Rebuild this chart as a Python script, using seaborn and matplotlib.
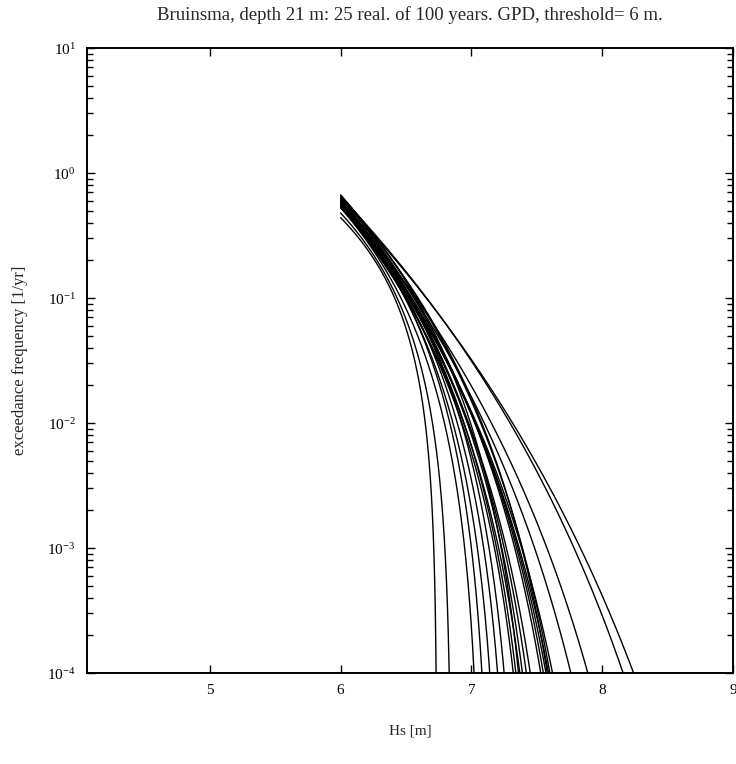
import numpy as np
import pandas as pd
import matplotlib
matplotlib.use("Agg")
import matplotlib.pyplot as plt
import seaborn as sns
from matplotlib.ticker import LogLocator, FixedLocator, NullFormatter

# --- data: 25 GPD fits (threshold 6 m) to 100-year realisations ---------
threshold = 6.0
# exceedance rate at the threshold [1/yr]
rate = [0.44, 0.48, 0.53, 0.60, 0.56, 0.58, 0.64, 0.53, 0.61, 0.66,
        0.55, 0.59, 0.62, 0.57, 0.66, 0.54, 0.60, 0.64, 0.58, 0.67,
        0.56, 0.61, 0.58, 0.65, 0.63]
# GPD shape parameter (negative: bounded upper tail)
shape = [-0.556, -0.455, -0.333, -0.313, -0.294, -0.278, -0.263, -0.238,
         -0.227, -0.250, -0.217, -0.222, -0.208, -0.200, -0.185, -0.192,
         -0.179, -0.200, -0.172, -0.182, -0.167, -0.143, -0.133, -0.115,
         -0.105]
# Hs at which each fitted curve reaches 1e-4 per year
hs_floor = [6.73, 6.83, 7.02, 7.08, 7.14, 7.20, 7.25, 7.32, 7.34, 7.36,
            7.37, 7.39, 7.42, 7.45, 7.53, 7.55, 7.57, 7.58, 7.59, 7.60,
            7.62, 7.76, 7.89, 8.16, 8.24]

x_ticks = [5, 6, 7, 8, 9]
y_floor, y_top = 1e-4, 1e1

# --- evaluate each fitted exceedance curve --------------------------------
frames = []
u = np.unique(np.concatenate([np.linspace(0, 1, 500),
                              1 - np.geomspace(1e-2, 1e-12, 300)]))
for i, (lam, xi, h4) in enumerate(zip(rate, shape, hs_floor)):
    k = -1.0 / xi
    # upper end point of the GPD so that the curve meets the floor at h4
    h_end = threshold + (h4 - threshold) / (1 - (y_floor / lam) ** (1 / k))
    sigma = -xi * (h_end - threshold)
    hs = threshold + u * (h_end - threshold)
    base = np.clip(1 + xi * (hs - threshold) / sigma, 0, None)
    freq = lam * base ** (-1 / xi)
    keep = freq > 1e-7
    frames.append(pd.DataFrame({"Hs": hs[keep], "freq": freq[keep],
                                "real": i}))
df = pd.concat(frames, ignore_index=True)

# --- styling ---------------------------------------------------------------
sns.set_style("ticks")
plt.rcParams["font.family"] = ["Liberation Serif", "DejaVu Serif"]
plt.rcParams["mathtext.fontset"] = "custom"
plt.rcParams["mathtext.rm"] = "Liberation Serif"
plt.rcParams["mathtext.it"] = "Liberation Serif:italic"
plt.rcParams["axes.unicode_minus"] = False

fig = plt.figure(figsize=(7.36, 7.64), dpi=100)
ax = fig.add_axes([0.118, 0.119, 0.878, 0.818])

sns.lineplot(data=df, x="Hs", y="freq", units="real", estimator=None,
             color="black", linewidth=1.0, sort=False, ax=ax, legend=False)

ax.set_yscale("log")
ax.set_xlim(4.06, 9)
ax.set_ylim(y_floor, y_top)

ax.xaxis.set_major_locator(FixedLocator(x_ticks))
ax.yaxis.set_major_locator(LogLocator(base=10, numticks=10))
ax.yaxis.set_minor_locator(LogLocator(base=10, subs=np.arange(2, 10),
                                      numticks=20))
ax.yaxis.set_minor_formatter(NullFormatter())

ax.tick_params(axis="both", which="both", direction="in",
               top=True, right=True, colors="black")
ax.tick_params(axis="both", which="major", length=6, width=1.0,
               labelsize=11, pad=8)
ax.tick_params(axis="y", which="minor", length=4, width=1.0)
for s in ax.spines.values():
    s.set_linewidth(1.4)
    s.set_color("black")

ax.set_xlabel("Hs [m]", fontsize=11, labelpad=20)
ax.set_ylabel("exceedance frequency [1/yr]", fontsize=12, labelpad=14)
fig.text(410 / 736, 1 - 15 / 764,
         "Bruinsma, depth 21 m: 25 real. of 100 years. GPD, threshold= 6 m.",
         ha="center", va="center", fontsize=13.5)

fig.savefig("out.png", dpi=100)
